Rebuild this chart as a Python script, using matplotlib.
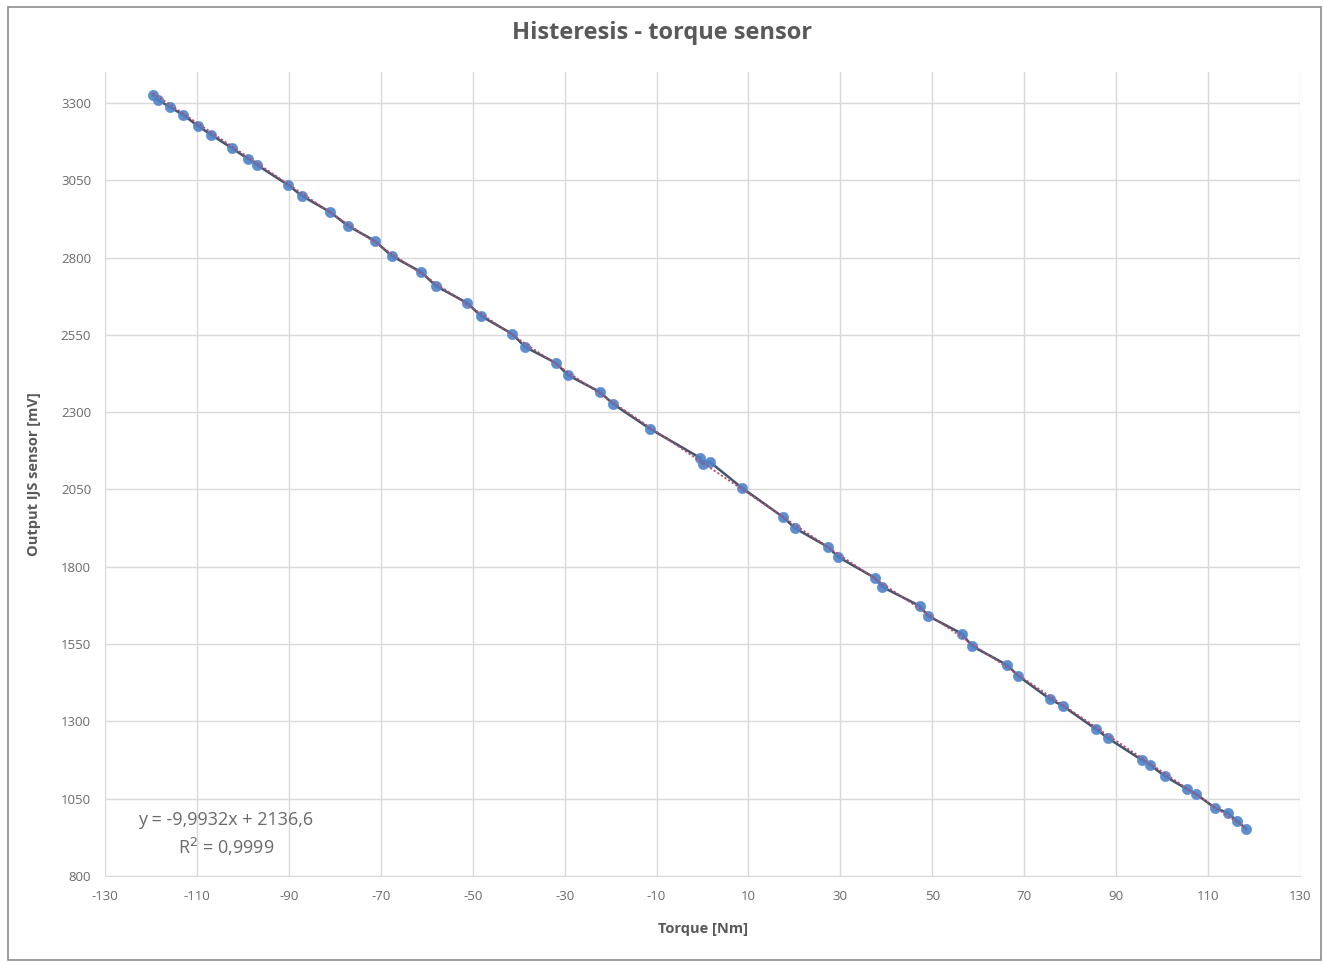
import numpy as np
import matplotlib.pyplot as plt
from matplotlib.patches import Rectangle

# values
torque = [-119.6, -118.5, -115.9, -113.0, -109.8, -106.9, -102.4, -98.9, -96.9, -90.2,
          -87.1, -81.0, -77.1, -71.3, -67.6, -61.2, -58.0, -51.2, -48.2, -41.4,
          -38.6, -31.9, -29.3, -22.3, -19.5, -11.4, -0.5, 0.1, 1.6, 8.6,
          17.5, 20.1, 27.3, 29.5, 37.5, 39.1, 47.3, 49.1, 56.5, 58.6,
          66.3, 68.7, 75.6, 78.4, 85.6, 88.2, 95.6, 97.4, 100.6, 105.4,
          107.4, 111.5, 114.3, 116.3, 118.3]
output_mv = [3326, 3310, 3287, 3261, 3226, 3197, 3154, 3119, 3099, 3035,
             2999, 2947, 2902, 2854, 2805, 2753, 2708, 2653, 2611, 2553,
             2511, 2459, 2420, 2365, 2327, 2246, 2152, 2132, 2139, 2055,
             1961, 1925, 1864, 1832, 1764, 1735, 1673, 1641, 1583, 1544,
             1482, 1447, 1372, 1350, 1275, 1246, 1175, 1159, 1123, 1081,
             1065, 1020, 1004, 978, 952]
slope = -9.9932
intercept = 2136.6
r2 = 0.9999

xticks = np.arange(-130, 131, 20)
yticks = np.arange(800, 3301, 250)

plt.rcParams['font.family'] = ['Open Sans', 'DejaVu Sans']
plt.rcParams['axes.unicode_minus'] = False
fig = plt.figure(figsize=(13.24, 9.65), dpi=100)
fig.patches.append(Rectangle((0.006, 0.005), 0.992, 0.988, transform=fig.transFigure,
                             fill=False, edgecolor='#8c8c8c', linewidth=1.2))
ax = fig.add_axes([0.0793, 0.0922, 0.9026, 0.8332])

x = np.array(torque)
y = np.array(output_mv)
ax.plot(x, y, color='#44546a', linewidth=1.8, zorder=3)
ax.scatter(x, y, s=55, color='#4f81c7', edgecolor='#5a8fd8', linewidth=0.5, zorder=4, alpha=0.9)
xf = np.array([x.min(), x.max()])
ax.plot(xf, slope * xf + intercept, linestyle=(0, (1.2, 1.2)), color='#b0506e', linewidth=1.3, zorder=5)

ax.set_xlim(-130, 130)
ax.set_ylim(800, 3400)
ax.set_xticks(xticks)
ax.set_yticks(yticks)
ax.grid(True, color='#d9d9d9', linewidth=1)
ax.set_axisbelow(True)
for s in ['top', 'right', 'left']:
    ax.spines[s].set_visible(False)
ax.spines['bottom'].set_color('#d9d9d9')
ax.tick_params(length=0, labelsize=9.5, labelcolor='#6a6a6a', pad=10)

ax.set_xlabel('Torque [Nm]', fontsize=10.5, fontweight='bold', color='#595959', labelpad=14)
ax.set_ylabel('Output IJS sensor [mV]', fontsize=10.5, fontweight='bold', color='#595959', labelpad=14)
fig.text(0.5, 0.966, 'Histeresis - torque sensor', ha='center', va='center',
         fontsize=17, fontweight='bold', color='#595959')

eq = f'y = {slope}x + {intercept}'.replace('.', ',')
ax.text(-103.7, 935, eq + '\n' + f'R$^2$ = {r2}'.replace('.', ','), ha='center', va='center',
        multialignment='center', fontsize=13, color='#6a6a6a', linespacing=1.4)

fig.savefig('out.png', dpi=100, facecolor='white')
